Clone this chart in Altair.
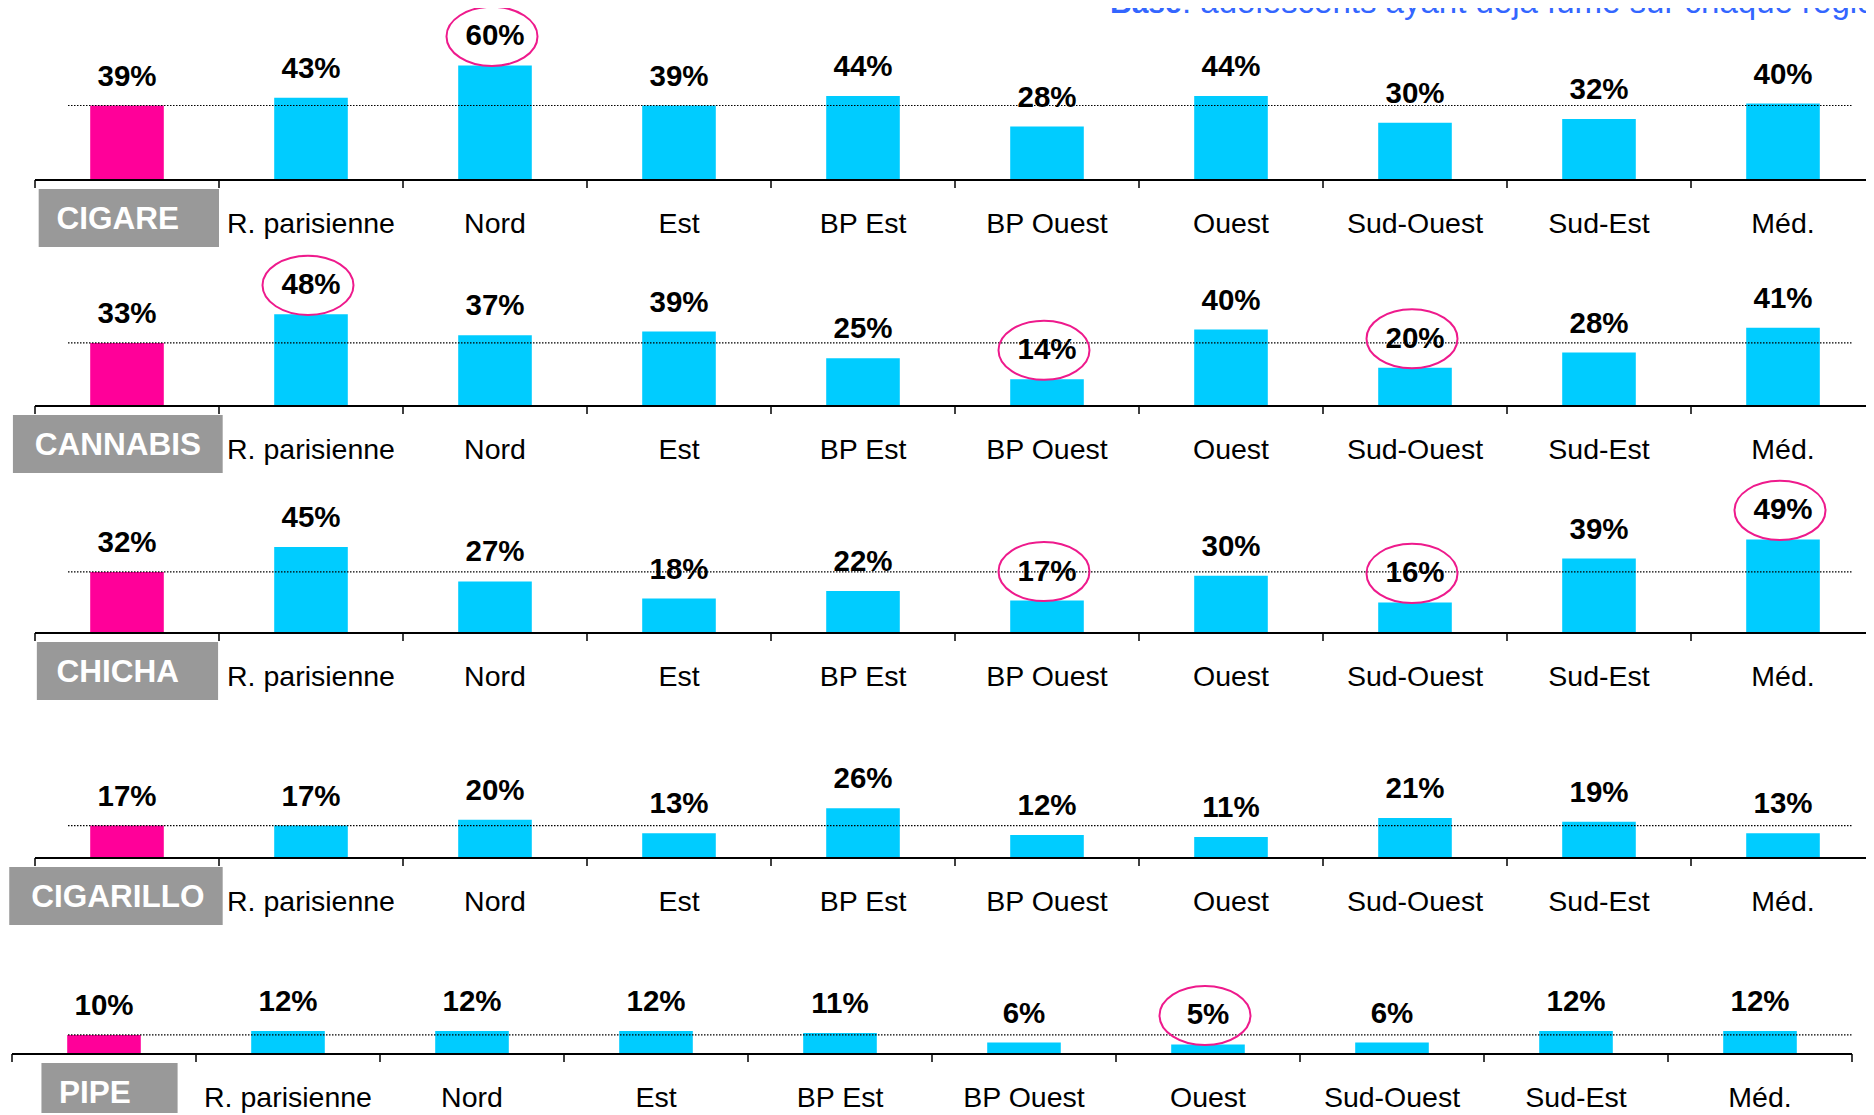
import altair as alt
import pandas as pd

# ---------------- data ----------------
REGIONS = ["France", "R. parisienne", "Nord", "Est", "BP Est", "BP Ouest",
           "Ouest", "Sud-Ouest", "Sud-Est", "Méd."]
PRODUCTS = ["CIGARE", "CANNABIS", "CHICHA", "CIGARILLO", "PIPE"]
CIGARE = [39, 43, 60, 39, 44, 28, 44, 30, 32, 40]
CANNABIS = [33, 48, 37, 39, 25, 14, 40, 20, 28, 41]
CHICHA = [32, 45, 27, 18, 22, 17, 30, 16, 39, 49]
CIGARILLO = [17, 17, 20, 13, 26, 12, 11, 21, 19, 13]
PIPE = [10, 12, 12, 12, 11, 6, 5, 6, 12, 12]
SERIES = [CIGARE, CANNABIS, CHICHA, CIGARILLO, PIPE]
HIGHLIGHTS = {
    "CIGARE": ["Nord"],
    "CANNABIS": ["R. parisienne", "BP Ouest", "Sud-Ouest"],
    "CHICHA": ["BP Ouest", "Sud-Ouest", "Méd."],
    "PIPE": ["Ouest"],
}
NOTE_BOLD = "Base"
NOTE_REST = " : adolescents ayant déjà fumé sur chaque région"

# ---------------- layout ----------------
W, H = 1858, 1105
BAND = 184.0                 # px per category
X0 = 27.0                    # px of first band start (rows 1-4)
PX = 1.91                    # px per percentage point
ROW_BASE = [172, 398, 625, 850, 1046]      # px of each row's baseline
ROW_SHIFT = [0, 0, 0, 0, -0.125]           # band units
BOX_SPAN = [(0.02, 1.0), (-0.12, 1.02), (0.01, 0.995), (-0.14, 1.02), (0.16, 0.90)]
FONT = "Liberation Sans"
PINK, CYAN, GREY = "#FF0099", "#00CCFF", "#999999"
RING = "#EE1A8C"
ELLIPSE = "M -1 0 A 1 0.65 0 1 0 1 0 A 1 0.65 0 1 0 -1 0 Z"

xs = alt.Scale(domain=[-X0 / BAND, (W - X0) / BAND], nice=False, zero=False)
ys = alt.Scale(domain=[0, H / PX], nice=False, zero=False)


def X(f):
    return alt.X(f, type="quantitative", scale=xs, axis=None)


def Y(f):
    return alt.Y(f, type="quantitative", scale=ys, axis=None)


bars_rows, tick_rows, axis_rows, box_rows = [], [], [], []
for r, (prod, vals) in enumerate(zip(PRODUCTS, SERIES)):
    off = (H - ROW_BASE[r]) / PX
    sh = ROW_SHIFT[r]
    for i, (reg, v) in enumerate(zip(REGIONS, vals)):
        xc = i + 0.5 + sh
        bars_rows.append(dict(product=prod, region=reg, value=v, label=f"{v}%",
                              kind="nat" if i == 0 else "reg",
                              xc=xc, x1=xc - 0.2, x2=xc + 0.2,
                              yb=off, yt=off + v,
                              hl=reg in HIGHLIGHTS.get(prod, [])))
    for k in range(len(REGIONS) + 1):
        tick_rows.append(dict(xt=k + sh, y1=off, y2=off - 8 / PX))
    axis_rows.append(dict(xa=sh, xb=len(REGIONS) + sh, yb=off))
    box_rows.append(dict(product=prod, bx1=BOX_SPAN[r][0] + sh, bx2=BOX_SPAN[r][1] + sh,
                         tx=0.45 + sh, yb=off))

df = pd.DataFrame(bars_rows)
ticks = pd.DataFrame(tick_rows)
axes = pd.DataFrame(axis_rows)
boxes = pd.DataFrame(box_rows)
nat = df[df["kind"] == "nat"]
reg = df[df["kind"] == "reg"]
hl = df[df["hl"]]
note = pd.DataFrame([dict(a=NOTE_BOLD, b=NOTE_REST)])

bars = alt.Chart(df).mark_bar().encode(
    x=X("x1"), x2="x2", y=Y("yb"), y2="yt",
    color=alt.Color("kind:N", scale=alt.Scale(domain=["nat", "reg"], range=[PINK, CYAN]),
                    legend=None),
)

dotted = alt.Chart(nat).mark_rule(color="black", strokeDash=[1.5, 1.5], strokeWidth=1.2).encode(
    y=Y("yt"), x=alt.value(60), x2=alt.value(1845)
)

baseline = alt.Chart(axes).mark_rule(color="black", strokeWidth=2).encode(
    x=X("xa"), x2="xb", y=Y("yb")
)

tickmarks = alt.Chart(ticks).mark_rule(color="black", strokeWidth=1.5).encode(
    x=X("xt"), y=Y("y1"), y2="y2"
)

values = alt.Chart(df).mark_text(font=FONT, fontSize=29.5, fontWeight="bold", color="black",
                                 baseline="alphabetic", dy=-20).encode(
    x=X("xc"), y=Y("yt"), text="label:N"
)

catlabels = alt.Chart(reg).mark_text(font=FONT, fontSize=28.5, color="black",
                                     baseline="alphabetic", dy=53).encode(
    x=X("xc"), y=Y("yb"), text="region:N"
)

boxrect = alt.Chart(boxes).mark_rect(color=GREY, yOffset=9, y2Offset=67).encode(
    x=X("bx1"), x2="bx2", y=Y("yb"), y2="yb"
)

boxtext = alt.Chart(boxes).mark_text(font=FONT, fontSize=31.5, fontWeight="bold", color="white",
                                     baseline="alphabetic", dy=49).encode(
    x=X("tx"), y=Y("yb"), text="product:N"
)

rings = alt.Chart(hl).mark_point(shape=ELLIPSE, size=8281, filled=False, color=RING,
                                 strokeWidth=2, opacity=1, yOffset=-29, xOffset=-3).encode(
    x=X("xc"), y=Y("yt")
)

note_a = alt.Chart(note).mark_text(font=FONT, fontSize=30, fontWeight="bold", color="#3366FF",
                                   align="left", baseline="alphabetic").encode(
    text="a:N", x=alt.value(1102), y=alt.value(5)
)
note_b = alt.Chart(note).mark_text(font=FONT, fontSize=33, color="#3366FF",
                                   align="left", baseline="alphabetic").encode(
    text="b:N", x=alt.value(1174), y=alt.value(5)
)

chart = alt.layer(bars, dotted, baseline, tickmarks, values, catlabels, boxrect, boxtext,
                  rings, note_a, note_b).properties(
    width=W, height=H, padding=0,
    autosize=alt.AutoSizeParams(type="none"),
    background="white",
).configure_view(strokeWidth=0)

chart.save("out.html", embed_options={"renderer": "svg", "actions": False})
